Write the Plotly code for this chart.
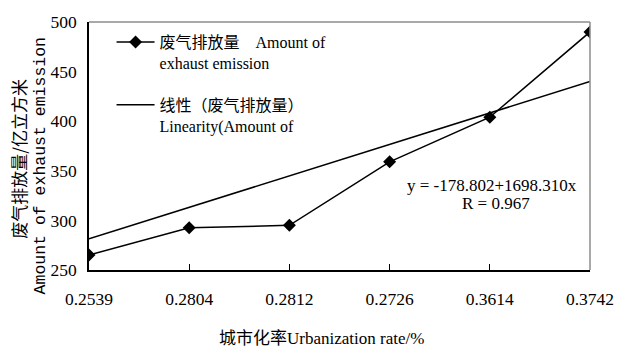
import plotly.graph_objects as go

# Urbanization rate categories (x axis, categorical order as recorded)
urbanization_rate = ["0.2539", "0.2804", "0.2812", "0.2726", "0.3614", "0.3742"]
# Exhaust emission, 100 million cubic metres
exhaust_emission = [265, 292.5, 295, 359, 404, 490]
# Linear trend line end points (first and last category)
trend_x = [urbanization_rate[0], urbanization_rate[-1]]
trend_y = [281.5, 440]
y_ticks = [250, 300, 350, 400, 450, 500]

SERIF = "Liberation Serif, Times New Roman, Noto Sans CJK SC"
MONO = "Liberation Mono, Courier New, monospace"
FS = 17

fig = go.Figure()
fig.add_trace(go.Scatter(
    x=urbanization_rate, y=exhaust_emission, mode="lines+markers",
    name="废气排放量    Amount of<br>exhaust emission", legendgroup="data",
    line=dict(color="black", width=1.5),
    marker=dict(symbol="diamond", size=10, color="black"),
))
fig.add_trace(go.Scatter(
    x=trend_x, y=trend_y, mode="lines",
    name="线性（废气排放量）<br>Linearity(Amount of", legendgroup="trend",
    line=dict(color="black", width=1.5),
))

tick_font = dict(family="Liberation Serif", size=17.5, color="black")

fig.update_layout(
    width=626, height=353,
    margin=dict(l=89, r=26, t=14, b=83),
    paper_bgcolor="white", plot_bgcolor="white",
    font=dict(family=SERIF, size=FS, color="black"),
    showlegend=True,
    legend=dict(
        x=0.045, y=0.987, xanchor="left", yanchor="top",
        bgcolor="rgba(0,0,0,0)", font=dict(family=SERIF, size=16),
        tracegroupgap=18, valign="top", itemwidth=38,
    ),
    xaxis=dict(
        type="category", categoryorder="array", categoryarray=urbanization_rate,
        range=[0, 5], showgrid=False, zeroline=False,
        showline=True, linecolor="black", linewidth=1.5,
        ticks="inside", ticklen=6, tickcolor="black", tickwidth=1,
        ticklabelstandoff=12, tickfont=tick_font,
    ),
    yaxis=dict(
        range=[250, 500], tickvals=y_ticks, showgrid=False, zeroline=False,
        showline=True, linecolor="black", linewidth=1.5,
        ticks="", ticklabelstandoff=7, tickfont=tick_font,
    ),
    shapes=[
        dict(type="line", xref="paper", yref="paper", x0=0, x1=1, y0=1, y1=1,
             line=dict(color="#8c8c8c", width=1.5)),
        dict(type="line", xref="paper", yref="paper", x0=1, x1=1, y0=0, y1=1,
             line=dict(color="#8c8c8c", width=1.5)),
    ],
    annotations=[
        dict(text="废气排放量/亿立方米", xref="paper", yref="paper",
             x=-72 / 511, y=(270.7 - 155) / 256.7, xanchor="center", yanchor="middle",
             textangle=-90, showarrow=False,
             font=dict(family="Noto Sans CJK SC", size=FS)),
        dict(text="Amount of exhaust emission", xref="paper", yref="paper",
             x=-49.5 / 511, y=(270.7 - 163) / 256.7, xanchor="center", yanchor="middle",
             textangle=-90, showarrow=False,
             font=dict(family=MONO, size=16.5)),
        dict(text="城市化率Urbanization rate/%", xref="paper", yref="paper",
             x=(326 - 89) / 511, y=-(341.7 - 270.7) / 256.7,
             xanchor="center", yanchor="middle", showarrow=False,
             font=dict(family=SERIF, size=FS)),
        dict(text="y = -178.802+1698.310x", xref="paper", yref="paper",
             x=(500 - 89) / 511, y=(270.7 - 183) / 256.7,
             xanchor="center", yanchor="middle", showarrow=False,
             font=dict(family=SERIF, size=FS)),
        dict(text="R = 0.967", xref="paper", yref="paper",
             x=(504 - 89) / 511, y=(270.7 - 202) / 256.7,
             xanchor="center", yanchor="middle", showarrow=False,
             font=dict(family=SERIF, size=FS)),
    ],
)

fig.write_html("out.html")
